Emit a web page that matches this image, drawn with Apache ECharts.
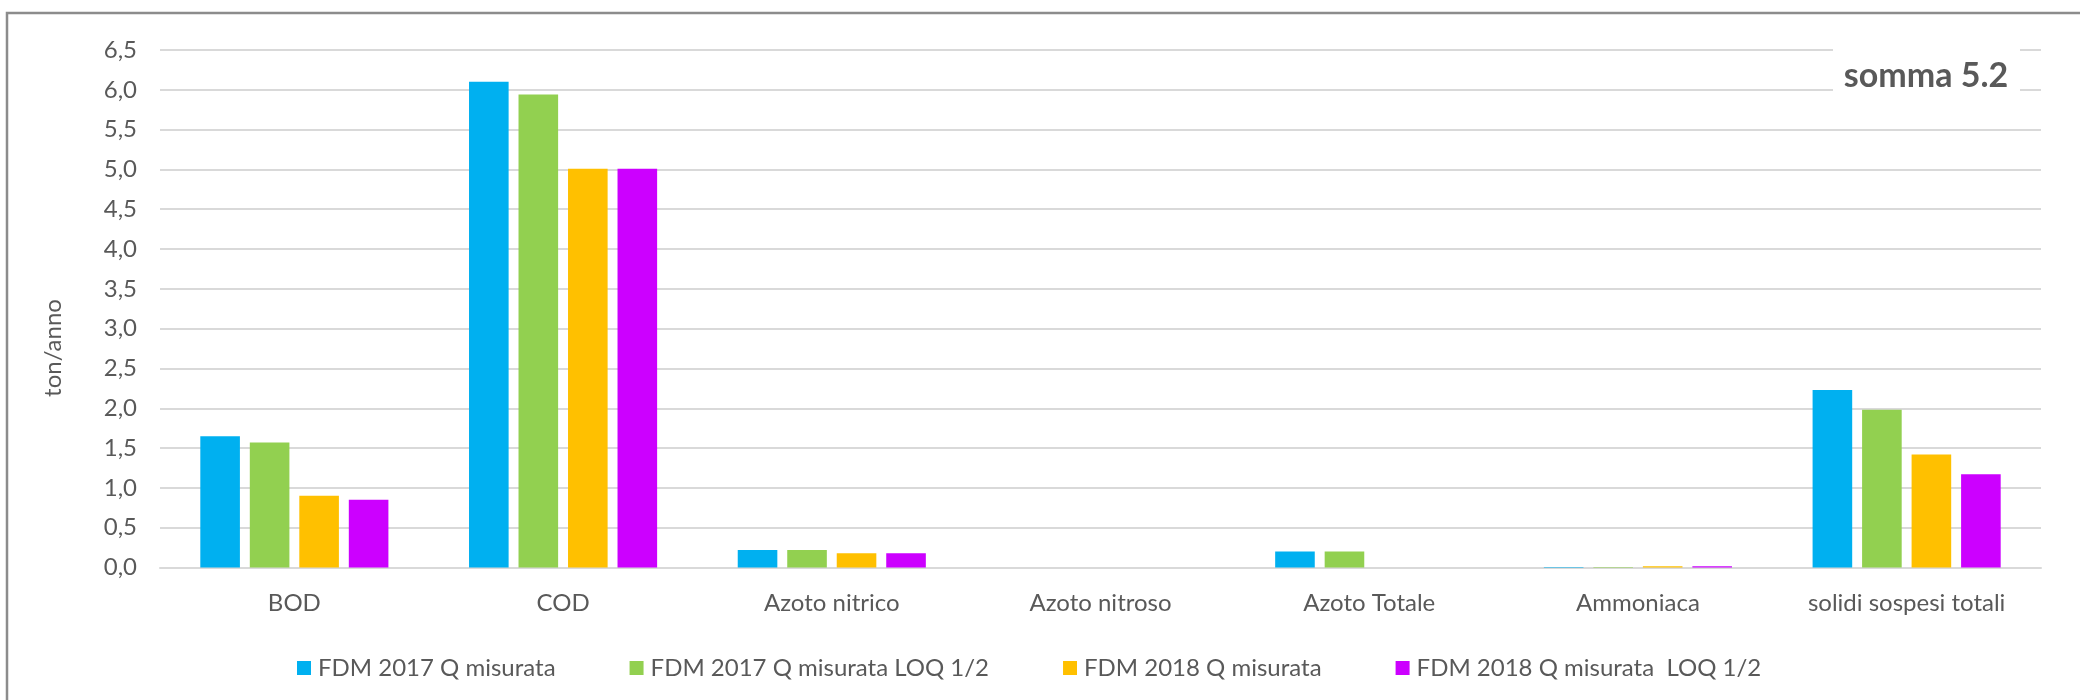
<!DOCTYPE html>
<html>
<head>
<meta charset="utf-8">
<script src="https://cdn.jsdelivr.net/npm/echarts@6/dist/echarts.min.js"></script>
<style>
html,body{margin:0;padding:0;background:#fff;}
#chart{width:2080px;height:700px;}
</style>
</head>
<body>
<div id="chart"></div>
<script>
const categories = ['BOD', 'COD', 'Azoto nitrico', 'Azoto nitroso', 'Azoto Totale', 'Ammoniaca', 'solidi sospesi totali'];
const seriesNames = ['FDM 2017 Q misurata', 'FDM 2017 Q misurata LOQ 1/2', 'FDM 2018 Q misurata', 'FDM 2018 Q misurata  LOQ 1/2'];
const fdm2017 = [1.65, 6.10, 0.22, 0.0, 0.20, 0.005, 2.23];
const fdm2017Loq = [1.57, 5.94, 0.22, 0.0, 0.20, 0.005, 1.98];
const fdm2018 = [0.90, 5.01, 0.18, 0.0, 0.0, 0.015, 1.42];
const fdm2018Loq = [0.85, 5.01, 0.18, 0.0, 0.0, 0.015, 1.17];
const colors = ['#00B0F0', '#92D050', '#FFC000', '#CC00FF'];
const yTicks = [0, 6.5, 0.5];
const yName = 'ton/anno';
const titleText = 'somma 5.2';

const FONT = 'Lato';
const TXT = '#595959';
const values = [fdm2017, fdm2017Loq, fdm2018, fdm2018Loq];

const chart = echarts.init(document.getElementById('chart'), null, {renderer: 'canvas'});
chart.setOption({
  animation: false,
  textStyle: {fontFamily: FONT},
  color: colors,
  grid: {left: 160, right: 39, top: 50, bottom: 132.5, containLabel: false},
  legend: {
    left: 292, top: 651,
    icon: 'rect', itemWidth: 14, itemHeight: 14, itemGap: 74,
    textStyle: {fontFamily: FONT, fontSize: 24, color: TXT, padding: [0, 0, 0, 2]},
    data: seriesNames
  },
  xAxis: {
    type: 'category',
    data: categories,
    axisTick: {show: false},
    axisLine: {lineStyle: {color: '#D9D9D9', width: 2}},
    axisLabel: {fontFamily: FONT, fontSize: 24, color: TXT, margin: 24, interval: 0}
  },
  yAxis: {
    type: 'value',
    min: yTicks[0], max: yTicks[1], interval: yTicks[2],
    axisLine: {show: false},
    axisTick: {show: false},
    splitLine: {lineStyle: {color: '#D9D9D9', width: 2}},
    axisLabel: {
      fontFamily: FONT, fontSize: 24, color: TXT, margin: 23,
      formatter: v => v.toFixed(1).replace('.', ',')
    }
  },
  series: seriesNames.map((n, i) => ({
    name: n,
    type: 'bar',
    data: values[i],
    barGap: '25%',
    barCategoryGap: '30%',
    itemStyle: {color: colors[i]}
  })),
  graphic: [
    {
      type: 'rect', z: 100,
      shape: {x: 7, y: 13, width: 2200, height: 800},
      style: {fill: 'none', stroke: '#8C8C8C', lineWidth: 2.5},
      silent: true
    },
    {
      type: 'rect', z: 100,
      shape: {x: 1833, y: 36, width: 187, height: 76},
      style: {fill: '#ffffff'},
      silent: true
    },
    {
      type: 'text', z: 101,
      x: 1926, y: 76,
      style: {
        text: titleText, fill: TXT,
        font: 'bold 34px ' + FONT,
        align: 'center', verticalAlign: 'middle'
      }
    },
    {
      type: 'text', z: 101,
      x: 53, y: 348, rotation: Math.PI / 2,
      style: {
        text: yName, fill: TXT,
        font: '24px ' + FONT,
        align: 'center', verticalAlign: 'middle'
      }
    }
  ]
});
</script>
</body>
</html>
